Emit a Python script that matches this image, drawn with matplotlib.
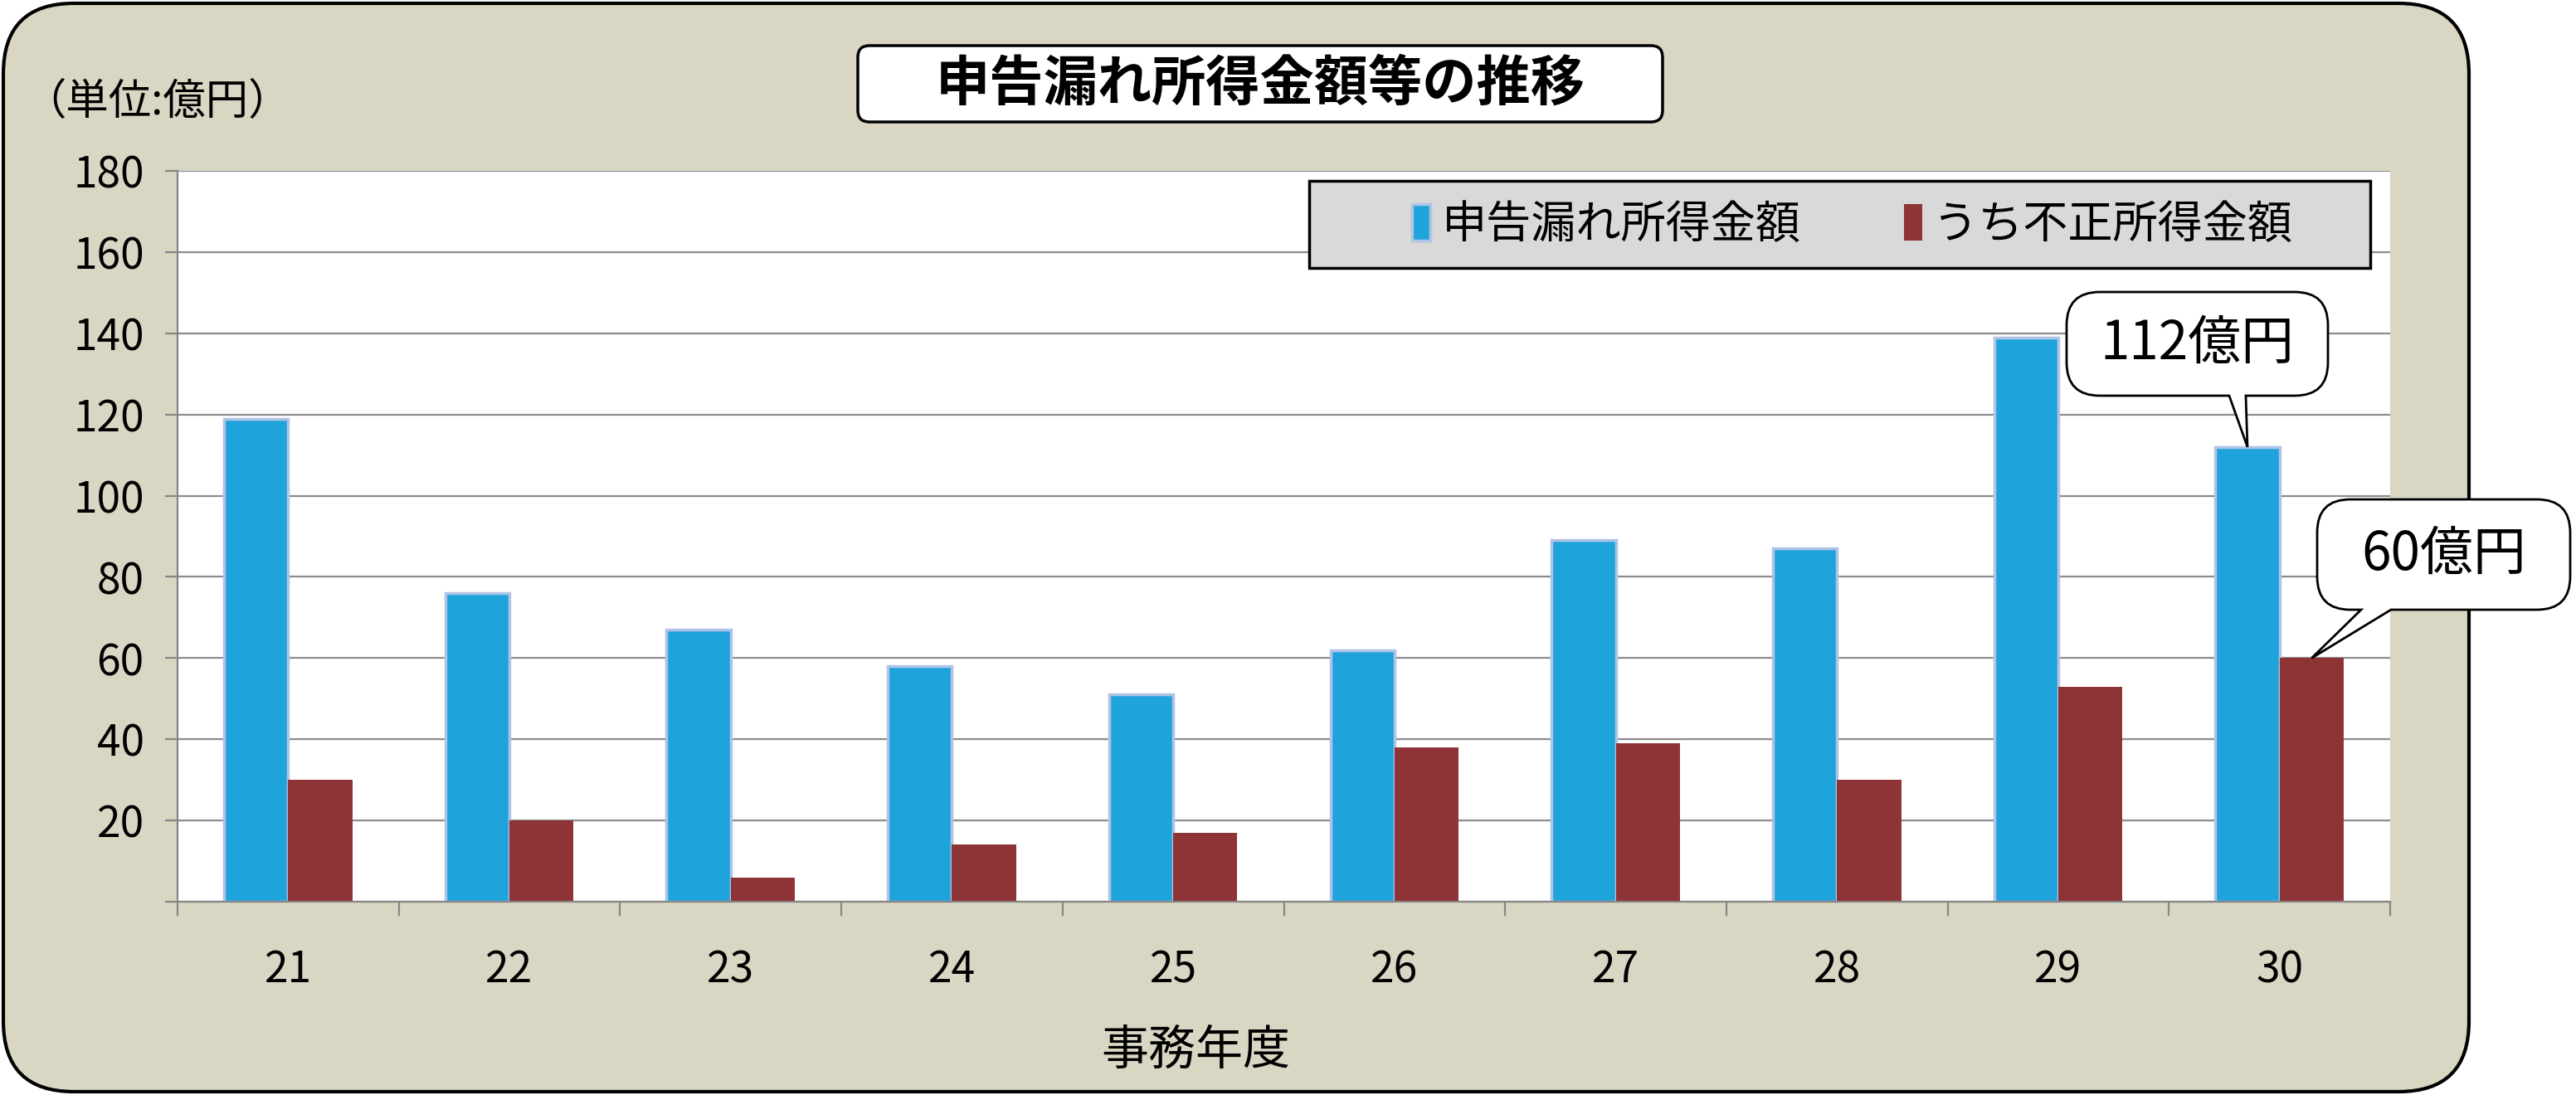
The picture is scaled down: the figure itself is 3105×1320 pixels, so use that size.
import numpy as np
import matplotlib
matplotlib.use('Agg')
import matplotlib.pyplot as plt
from matplotlib.patches import FancyBboxPatch, PathPatch, Rectangle
from matplotlib.path import Path

plt.rcParams['font.family'] = ['Noto Sans CJK JP', 'DejaVu Sans']

# data (単位: 億円)
years = ['21', '22', '23', '24', '25', '26', '27', '28', '29', '30']
undeclared = [119, 76, 67, 58, 51, 62, 89, 87, 139, 112]   # 申告漏れ所得金額
fraud = [30, 20, 6, 14, 17, 38, 39, 30, 53, 60]            # うち不正所得金額
yticks = [0, 20, 40, 60, 80, 100, 120, 140, 160, 180]

W, H = 3105, 1320
BEIGE = '#D9D6C3'
BLUE = '#1FA3DB'
RED = '#8F3436'
GRID = '#8C8C8C'

fig = plt.figure(figsize=(W / 100, H / 100), dpi=100)
fig.patch.set_facecolor('white')

# background layer, pixel coordinates
bg = fig.add_axes([0, 0, 1, 1], zorder=0)
bg.set_xlim(0, W)
bg.set_ylim(0, H)
bg.axis('off')
bg.add_patch(FancyBboxPatch((4, 4), 2972, 1312, boxstyle='round,pad=0,rounding_size=85',
                            fc=BEIGE, ec='black', lw=3))
bg.add_patch(FancyBboxPatch((1034, 1173), 970, 92, boxstyle='round,pad=0,rounding_size=14',
                            fc='white', ec='black', lw=2.5))
bg.text(1519, 1219, '申告漏れ所得金額等の推移', fontsize=47, fontweight='bold',
        ha='center', va='center')
bg.text(28, H - 123, '（単位:億円）', fontsize=37, ha='left', va='center')
bg.text(1441, H - 1267, '事務年度', fontsize=41, ha='center', va='center')

# main chart
ax = fig.add_axes([214 / W, 233 / H, (2881 - 214) / W, (1087 - 206) / H], zorder=1)
ax.set_facecolor('white')
x = np.arange(len(years))
w = 0.29
ax.bar(x - w / 2, undeclared, w, color=BLUE, edgecolor='#AFC3E6', linewidth=2.5,
       label='申告漏れ所得金額', zorder=2)
ax.bar(x + w / 2, fraud, w, color=RED, label='うち不正所得金額', zorder=2)

ax.set_xlim(-0.5, len(years) - 0.5)
ax.set_ylim(0, 180)
ax.set_yticks(yticks)
ax.set_yticklabels(['' if v == 0 else str(v) for v in yticks])
ax.set_xticks(x)
ax.set_xticklabels(years)
ax.set_xticks(np.arange(-0.5, len(years), 1), minor=True)

ax.yaxis.grid(True, color=GRID, lw=1.6)
ax.set_axisbelow(True)
for s in ['top', 'right']:
    ax.spines[s].set_visible(False)
for s in ['left', 'bottom']:
    ax.spines[s].set_color('#868686')
    ax.spines[s].set_linewidth(1.6)
ax.tick_params(axis='y', length=11, width=1.6, color='#868686', pad=18, labelsize=37)
ax.tick_params(axis='x', which='major', length=0, pad=40, labelsize=37)
ax.tick_params(axis='x', which='minor', length=12, width=1.6, color='#868686')

# legend with a custom grey box
ax.add_patch(Rectangle((0.5114, 0.867), 0.4796, 0.1194, transform=ax.transAxes,
                       fc='#D9D9D9', ec='black', lw=2.5, zorder=4))
leg = ax.legend(loc='center', bbox_to_anchor=(0.757, 0.926), ncol=2, fontsize=39,
                frameon=False, handlelength=0.4, handleheight=0.9, handletextpad=0.25,
                columnspacing=2.3)
leg.set_zorder(5)

# callouts on top
ov = fig.add_axes([0, 0, 1, 1], zorder=3)
ov.set_xlim(0, W)
ov.set_ylim(0, H)
ov.axis('off')
ov.patch.set_alpha(0)


def to_px(xd, yd):
    disp = ax.transData.transform((xd, yd))
    return ov.transData.inverted().transform(disp)


def callout(x0, y0, x1, y1, base_a, base_b, tip, text, r=40):
    verts = [(x0 + r, y0), (base_a, y0), tuple(tip), (base_b, y0), (x1 - r, y0),
             (x1, y0), (x1, y0 + r), (x1, y1 - r), (x1, y1), (x1 - r, y1),
             (x0 + r, y1), (x0, y1), (x0, y1 - r), (x0, y0 + r), (x0, y0), (x0 + r, y0)]
    codes = [Path.MOVETO, Path.LINETO, Path.LINETO, Path.LINETO, Path.LINETO,
             Path.CURVE3, Path.CURVE3, Path.LINETO, Path.CURVE3, Path.CURVE3,
             Path.LINETO, Path.CURVE3, Path.CURVE3, Path.LINETO, Path.CURVE3, Path.CURVE3]
    ov.add_patch(PathPatch(Path(verts, codes), fc='white', ec='black', lw=2))
    ov.text((x0 + x1) / 2, (y0 + y1) / 2, text, fontsize=46, ha='center', va='center')


tip1 = to_px(x[-1] - w / 2, undeclared[-1])
callout(2491, 843, 2806, 968, tip1[0] - 22, tip1[0] - 2, tip1, f'{undeclared[-1]}億円')
tip2 = to_px(x[-1] + w / 2, fraud[-1])
callout(2793, 585, 3098, 718, 2846, 2882, tip2, f'{fraud[-1]}億円')

fig.savefig('out.png', dpi=100)
